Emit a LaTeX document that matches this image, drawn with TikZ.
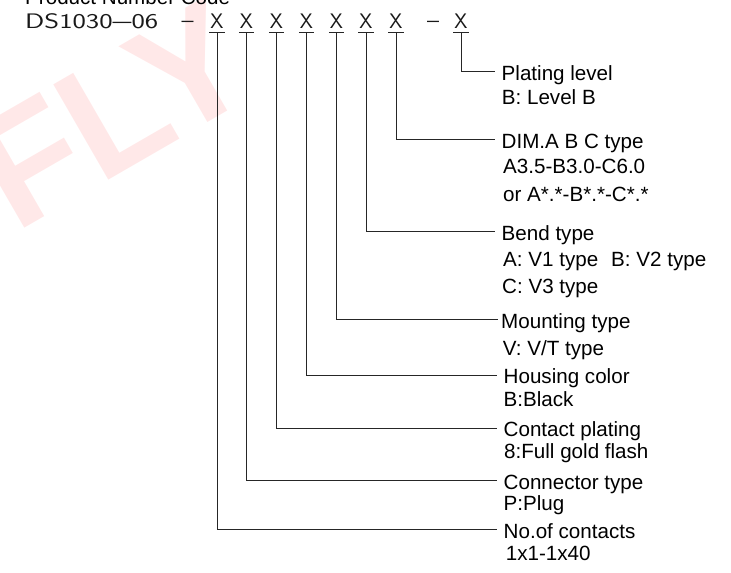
\documentclass[tikz,border=0pt]{standalone}
\usepackage{fontspec}
\setmainfont{Liberation Sans}
\newfontfamily\codefont{Latin Modern Sans}
\begin{document}
\begin{tikzpicture}[x=1pt,y=-1pt,
  lab/.style={anchor=base west, inner sep=0pt, text=black, font=\fontsize{20.6}{24}\selectfont},
  code/.style={inner sep=0pt, text=black!90, font=\codefont\fontsize{21}{21}\selectfont},
  xch/.style={code, anchor=base, text depth=4pt, minimum width=15pt},
  uline/.style={draw=black!85, line width=0.9pt},
  conn/.style={draw=black!85, line width=0.9pt},
  wmark/.style={inner sep=0pt, text=red!9, font=\fontsize{160}{160}\selectfont\bfseries}
]
\useasboundingbox (0,0) rectangle (731,573);
% watermark
\node[wmark, rotate=30, anchor=base west] (wm) at (15,234) {FLY};

% cut-off title
\node[lab] (title) at (25,4) {Product Number Code};

% code line
\node[code, anchor=base west] (pre) at (25,28.3) {\resizebox{133pt}{\height}{DS1030\resizebox{14pt}{\height}{–}06}};
\node[code, anchor=base] (d1) at (187.5,28.3) {\raisebox{1pt}{\resizebox{12pt}{\height}{–}}};
\node[code, anchor=base] (d2) at (433,28.3) {\raisebox{1pt}{\resizebox{12pt}{\height}{–}}};
\node[xch] (x1) at (217,28.3) {X};
\node[xch] (x2) at (246.5,28.3) {X};
\node[xch] (x3) at (276.5,28.3) {X};
\node[xch] (x4) at (306.5,28.3) {X};
\node[xch] (x5) at (336.5,28.3) {X};
\node[xch] (x6) at (366,28.3) {X};
\node[xch] (x7) at (396,28.3) {X};
\node[xch] (x8) at (461,28.3) {X};
\foreach \n in {x1,x2,x3,x4,x5,x6,x7,x8}
  \draw[uline] (\n.south west) -- (\n.south east);

% labels
\node[lab] (pl1) at (501.5,80.4) {Plating level};
\node[lab] (pl2) at (501.7,104.3) {B: Level B};
\node[lab] (dm1) at (501.5,148.1) {DIM.A B C type};
\node[lab] (dm2) at (503,173.3) {A3.5-B3.0-C6.0};
\node[lab] (dm3) at (503,201.7) {or A*.*-B*.*-C*.*};
\node[lab] (bt1) at (501.5,240.4) {Bend type};
\node[lab] (bt2) at (503,266.7) {A: V1 type\hspace{13pt}B: V2 type};
\node[lab] (bt3) at (502,293.3) {C: V3 type};
\node[lab] (mt1) at (501,328) {Mounting type};
\node[lab] (mt2) at (502.7,355) {V: V/T type};
\node[lab] (hc1) at (503.5,383.7) {Housing color};
\node[lab] (hc2) at (503.4,406) {B:Black};
\node[lab] (cp1) at (503.5,436.7) {Contact plating};
\node[lab] (cp2) at (504,458.3) {8:Full gold flash};
\node[lab] (ct1) at (503.5,489.4) {Connector type};
\node[lab] (ct2) at (503.4,510) {P:Plug};
\node[lab] (nc1) at (503.5,538) {No.of contacts};
\node[lab] (nc2) at (505.7,560) {1x1-1x40};

% connectors
\draw[conn] (x8.south) |- ([shift={(-6.3pt,8.7pt)}]pl1.base west);
\draw[conn] (x7.south) |- ([shift={(-6.3pt,8.7pt)}]dm1.base west);
\draw[conn] (x6.south) |- ([shift={(-6.3pt,8.7pt)}]bt1.base west);
\draw[conn] (x5.south) |- ([shift={(-3pt,8.7pt)}]mt1.base west);
\draw[conn] (x4.south) |- ([shift={(-6.3pt,8.7pt)}]hc1.base west);
\draw[conn] (x3.south) |- ([shift={(-6.3pt,8.7pt)}]cp1.base west);
\draw[conn] (x2.south) |- ([shift={(-6.3pt,8.7pt)}]ct1.base west);
\draw[conn] (x1.south) |- ([shift={(-6.3pt,8.7pt)}]nc1.base west);
\end{tikzpicture}
\end{document}
